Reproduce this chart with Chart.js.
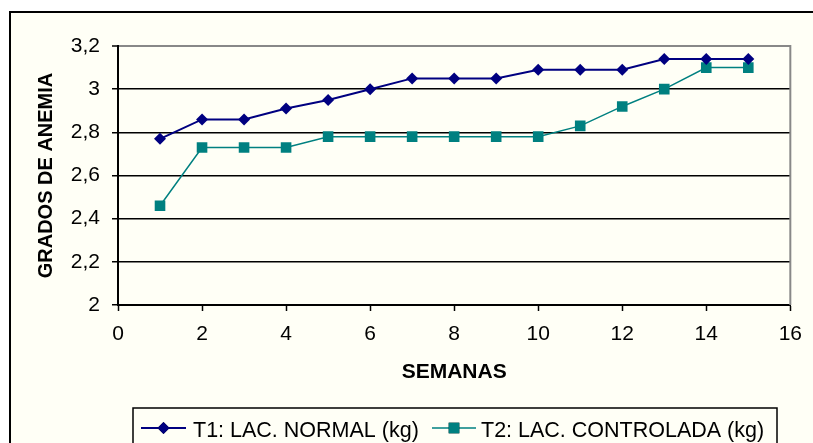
<!DOCTYPE html>
<html>
<head>
<meta charset="utf-8">
<script src="https://cdn.jsdelivr.net/npm/chart.js@4.4.0/dist/chart.umd.min.js"></script>
<style>
  html, body { margin: 0; padding: 0; background: #fff; }
  canvas { display: block; }
</style>
</head>
<body>
<canvas id="chart" width="813" height="443"></canvas>
<script>
// weeks and anemia grades per treatment
const semanas = [1, 2, 3, 4, 5, 6, 7, 8, 9, 10, 11, 12, 13, 14, 15];
const t1Normal = [2.77, 2.86, 2.86, 2.91, 2.95, 3.00, 3.05, 3.05, 3.05, 3.09, 3.09, 3.09, 3.14, 3.14, 3.14];
const t2Controlada = [2.46, 2.73, 2.73, 2.73, 2.78, 2.78, 2.78, 2.78, 2.78, 2.78, 2.83, 2.92, 3.00, 3.10, 3.10];
const seriesNames = ["T1: LAC. NORMAL (kg)", "T2: LAC. CONTROLADA (kg)"];

const FONT = "'Liberation Sans', Arial, sans-serif";
const CREAM = '#fffff6';
const NAVY = '#000080';
const TEAL = '#008080';

const toPoints = vals => semanas.map((s, i) => ({ x: s, y: vals[i] }));
const comma = v => String(+Number(v).toFixed(1)).replace('.', ',');

// background, outer frame and the grey right edge of the plot
const framePlugin = {
  id: 'frame',
  beforeDraw(chart) {
    const { ctx, width, height } = chart;
    ctx.save();
    ctx.fillStyle = '#fff';
    ctx.fillRect(0, 0, width, height);
    ctx.fillStyle = CREAM;
    ctx.fillRect(9, 11, width, height);
    ctx.strokeStyle = '#000';
    ctx.lineWidth = 2;
    ctx.beginPath();
    ctx.moveTo(10, height + 2);
    ctx.lineTo(10, 12);
    ctx.lineTo(width + 2, 12);
    ctx.stroke();
    ctx.restore();
  },
  beforeDatasetsDraw(chart) {
    const { ctx, chartArea: a } = chart;
    ctx.save();
    ctx.strokeStyle = '#888';
    ctx.lineWidth = 2;
    ctx.beginPath();
    ctx.moveTo(a.right, a.top - 1);
    ctx.lineTo(a.right, a.bottom);
    ctx.stroke();
    ctx.restore();
  }
};

// boxed legend under the axis, line sample with the marker on it
const legendPlugin = {
  id: 'boxLegend',
  afterDraw(chart) {
    const { ctx } = chart;
    const items = [
      { ds: 0, x0: 141, x1: 186, text: 193 },
      { ds: 1, x0: 432, x1: 476, text: 481 }
    ];
    ctx.save();
    ctx.strokeStyle = '#000';
    ctx.lineWidth = 1.5;
    ctx.strokeRect(133, 408, 644, 60);
    const y = 428;
    items.forEach(it => {
      const ds = chart.data.datasets[it.ds];
      ctx.strokeStyle = ds.borderColor;
      ctx.lineWidth = ds.borderWidth;
      ctx.beginPath();
      ctx.moveTo(it.x0, y);
      ctx.lineTo(it.x1, y);
      ctx.stroke();
      Chart.helpers.drawPoint(ctx, {
        pointStyle: ds.pointStyle,
        radius: ds.pointRadius,
        borderWidth: 0
      }, (it.x0 + it.x1) / 2, y);
      ctx.fillStyle = ds.pointBackgroundColor;
      ctx.fill();
      ctx.fillStyle = '#000';
      ctx.font = '21.5px ' + FONT;
      ctx.textBaseline = 'alphabetic';
      ctx.fillText(ds.label, it.text, 437);
    });
    ctx.restore();
  }
};

new Chart(document.getElementById('chart'), {
  type: 'line',
  data: {
    datasets: [
      {
        label: seriesNames[0],
        data: toPoints(t1Normal),
        borderColor: NAVY,
        backgroundColor: NAVY,
        pointBackgroundColor: NAVY,
        pointBorderColor: NAVY,
        borderWidth: 2,
        pointStyle: 'rectRot',
        pointRadius: 6,
        pointBorderWidth: 0
      },
      {
        label: seriesNames[1],
        data: toPoints(t2Controlada),
        borderColor: TEAL,
        backgroundColor: TEAL,
        pointBackgroundColor: TEAL,
        pointBorderColor: TEAL,
        borderWidth: 1.5,
        pointStyle: 'rect',
        pointRadius: 7.5,
        pointBorderWidth: 0
      }
    ]
  },
  options: {
    responsive: false,
    animation: false,
    layout: { padding: { top: 46, right: 20, bottom: 0, left: 0 } },
    plugins: {
      legend: { display: false },
      tooltip: { enabled: false }
    },
    scales: {
      x: {
        type: 'linear',
        min: 0,
        max: 16,
        afterFit: s => { s.height = 138; },
        ticks: {
          stepSize: 2,
          padding: 11,
          color: '#000',
          font: { family: FONT, size: 21 },
          maxRotation: 0
        },
        grid: {
          drawOnChartArea: false,
          tickLength: 6,
          tickColor: '#000',
          tickWidth: 1.5
        },
        border: { color: '#000', width: 2 },
        title: {
          display: true,
          text: 'SEMANAS',
          color: '#000',
          font: { family: FONT, size: 21, weight: 'bold' },
          padding: { top: 0, bottom: 58 }
        }
      },
      y: {
        min: 2,
        max: 3.2,
        afterFit: s => { s.width = 118; },
        ticks: {
          stepSize: 0.2,
          padding: 12,
          color: '#000',
          font: { family: FONT, size: 21 },
          callback: v => comma(v)
        },
        grid: {
          color: ctx => (ctx.tick && Math.abs(ctx.tick.value - 3.2) < 1e-6) ? '#888' : '#000',
          lineWidth: ctx => (ctx.tick && Math.abs(ctx.tick.value - 3.2) < 1e-6) ? 2 : 1.5,
          tickLength: 6,
          tickColor: '#000',
          tickWidth: 1.5
        },
        border: { color: '#000', width: 2 },
        title: {
          display: true,
          text: 'GRADOS DE ANEMIA',
          color: '#000',
          font: { family: FONT, size: 20, weight: 'bold' },
          padding: { top: 34, bottom: 0 }
        }
      }
    }
  },
  plugins: [framePlugin, legendPlugin]
});
</script>
</body>
</html>
